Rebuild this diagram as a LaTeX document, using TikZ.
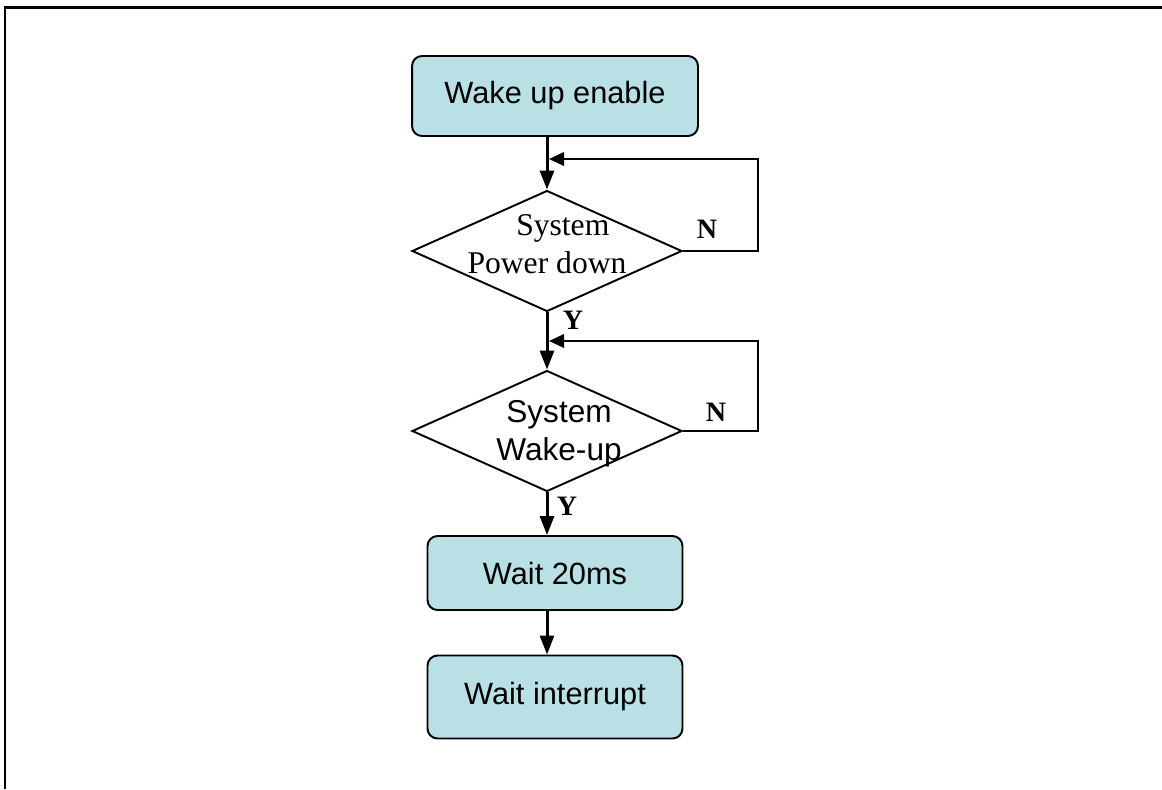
\documentclass[tikz,border=0pt]{standalone}
\usepackage{fontspec}
\setmainfont{Liberation Serif}
\setsansfont{Liberation Sans}
\usetikzlibrary{arrows.meta,shapes.geometric}
\definecolor{boxfill}{RGB}{185,224,228}
\tikzset{
  blk/.style={draw=black,line width=1.1pt,fill=boxfill,rounded corners=2mm,
              font=\sffamily\fontsize{17.5}{21}\selectfont,inner sep=0pt},
  dia/.style={draw=black,line width=1.1pt,shape=diamond,inner sep=0pt,
              minimum width=5.4cm,minimum height=2.42cm},
  dtxt/.style={align=center,inner sep=0pt,font=\fontsize{18}{21.6}\selectfont},
  ar/.style ={-{Triangle[length=3.8mm,width=2.8mm]},line width=1.7pt},
  back/.style={-{Triangle[length=3mm,width=2.7mm]},line width=1.1pt},
  yn/.style={font=\bfseries\fontsize{16}{19}\selectfont,inner sep=0pt},
}
\begin{document}
\begin{tikzpicture}[x=0.02cm,y=-0.02cm]
  \useasboundingbox (0,0) rectangle (1162,789);
  \draw[line width=0.06cm] (5,789) -- (5,7) -- (1162,7);

  \node[blk,minimum width=5.72cm,minimum height=1.6cm] (wake) at (555,96) {Wake up enable};
  \node[dia] (pd) at (547,251) {};
  \node[dtxt] (pdt) at (547,244) {\hspace*{18pt}System\\Power down};
  \node[dia] (wk) at (547,431) {};
  \node[dtxt,font=\sffamily\fontsize{18}{21.6}\selectfont] (wkt) at (559,434) {System\\Wake-up};
  \node[blk,minimum width=5.1cm,minimum height=1.48cm] (w20) at (555,573) {Wait 20ms};
  \node[blk,minimum width=5.1cm,minimum height=1.66cm] (wi) at (555,697) {Wait interrupt};

  \coordinate (j1) at (549,159);
  \coordinate (c1) at (758,159);
  \coordinate (j2) at (549,341);
  \coordinate (c2) at (758,341);

  \draw[ar] (wake.south -| pd.north) -- (pd.north);
  \draw[ar] (pd.south) -- (wk.north);
  \draw[ar] (wk.south) -- (wk.south |- w20.north);
  \draw[ar] (w20.south -| wk.south) -- (wi.north -| wk.south);
  \draw[back] (pd.east) -| (c1) -- (j1);
  \draw[back] (wk.east) -| (c2) -- (j2);

  \node[yn] (n1) at (707,229) {N};
  \node[yn] (y1) at (573,320) {Y};
  \node[yn] (n2) at (716,412) {N};
  \node[yn] (y2) at (567,506) {Y};
\end{tikzpicture}
\end{document}
